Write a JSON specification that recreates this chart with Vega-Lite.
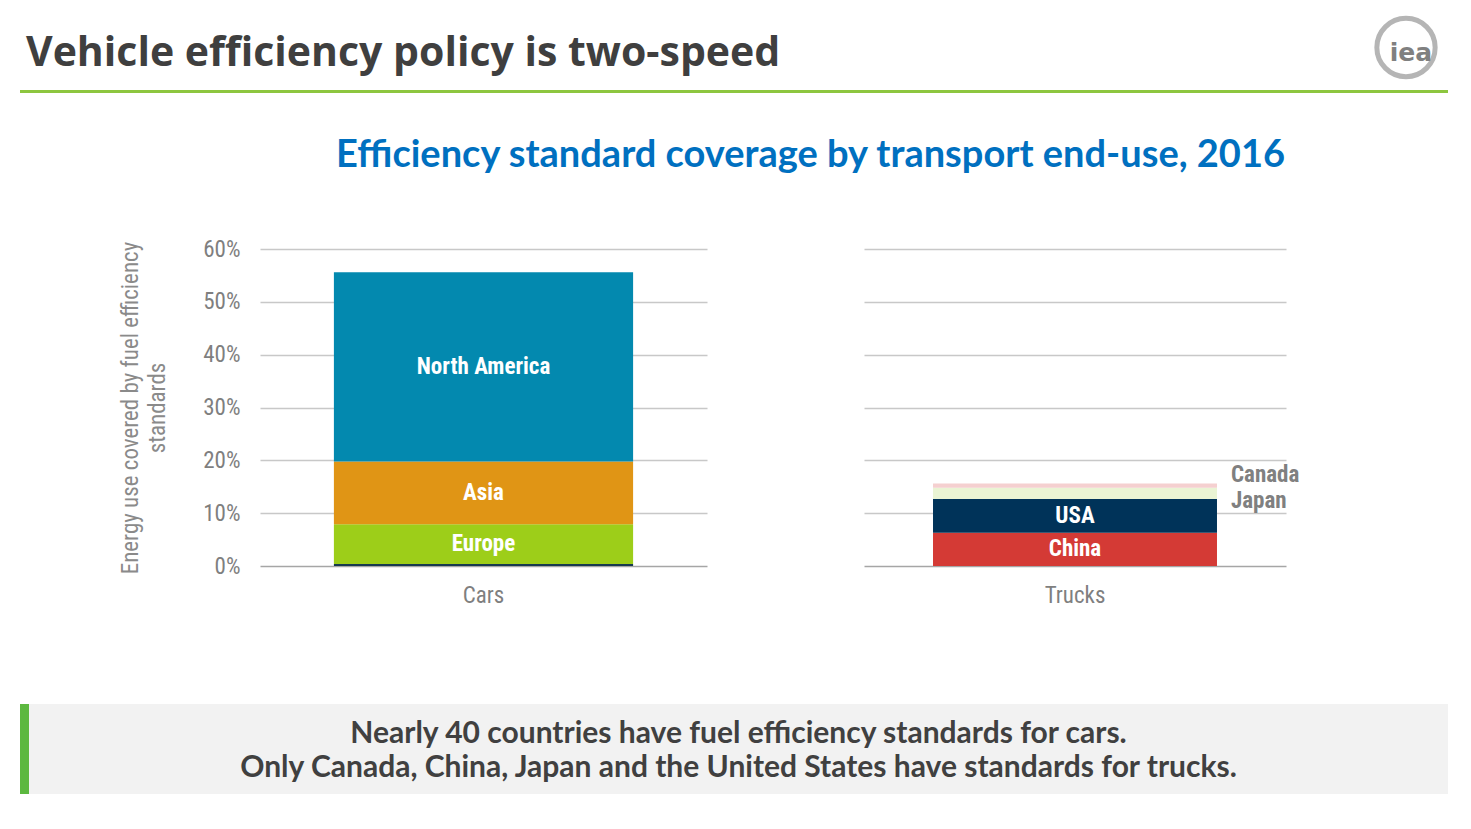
{
  "$schema": "https://vega.github.io/schema/vega-lite/v6.json",
  "background": "white",
  "padding": {"left": 20, "top": 5, "right": 20, "bottom": 0},
  "datasets": {
    "coverage": [
      {"vehicle": "Cars", "region": "Other", "label": "", "value": 0.004, "order": 1},
      {"vehicle": "Cars", "region": "Europe", "label": "Europe", "value": 0.075, "order": 2},
      {"vehicle": "Cars", "region": "Asia", "label": "Asia", "value": 0.119, "order": 3},
      {"vehicle": "Cars", "region": "North America", "label": "North America", "value": 0.358, "order": 4},
      {"vehicle": "Trucks", "region": "China", "label": "China", "value": 0.063, "order": 1},
      {"vehicle": "Trucks", "region": "USA", "label": "USA", "value": 0.064, "order": 2},
      {"vehicle": "Trucks", "region": "Japan", "label": "Japan", "value": 0.021, "order": 3},
      {"vehicle": "Trucks", "region": "Canada", "label": "Canada", "value": 0.008, "order": 4}
    ],
    "footer": [
      {"line": 1, "text": "Nearly 40 countries have fuel efficiency standards for cars."},
      {"line": 2, "text": "Only Canada, China, Japan and the United States have standards for trucks."}
    ]
  },
  "spacing": 44,
  "vconcat": [
    {
      "spacing": 0,
      "vconcat": [
        {
          "spacing": 0,
          "hconcat": [
            {
              "width": 1344,
              "height": 85,
              "title": {
                "text": "Vehicle efficiency policy is two-speed",
                "font": "Open Sans",
                "fontSize": 41,
                "fontWeight": "bold",
                "color": "#3f3f3f",
                "anchor": "start",
                "frame": "group",
                "baseline": "alphabetic",
                "dx": 6,
                "offset": -102
              },
              "data": {"values": []},
              "mark": "rect",
              "encoding": {}
            },
            {
              "width": 84,
              "height": 85,
              "data": {"values": [{"logo": "iea"}]},
              "layer": [
                {
                  "mark": {"type": "point", "shape": "circle", "filled": false, "size": 3400, "strokeWidth": 5, "color": "#b5b5b5", "opacity": 1},
                  "encoding": {}
                },
                {
                  "mark": {"type": "text", "font": "DejaVu Sans", "fontWeight": "bold", "fontSize": 25, "color": "#808080", "dx": 5, "dy": 5},
                  "encoding": {"text": {"field": "logo"}}
                }
              ]
            }
          ]
        },
        {
          "width": 1428,
          "height": 3,
          "view": {"fill": "#8dc63f", "stroke": null},
          "data": {"values": []},
          "mark": "rect",
          "encoding": {}
        }
      ]
    },
    {
      "spacing": 97,
      "vconcat": [
        {
          "spacing": 0,
          "hconcat": [
            {
              "width": 99,
              "height": 10,
              "data": {"values": []},
              "mark": "rect",
              "encoding": {}
            },
            {
              "title": {
                "text": "Efficiency standard coverage by transport end-use, 2016",
                "font": "Lato",
                "fontSize": 38,
                "fontWeight": "bold",
                "color": "#0070c0",
                "anchor": "middle",
                "frame": "bounds",
                "dx": 101,
                "offset": 63
              },
              "bounds": "flush",
              "spacing": 157,
              "hconcat": [
                {
                  "width": 447,
                  "height": 317,
                  "data": {"name": "coverage"},
                  "transform": [
                    {"filter": "datum.vehicle === 'Cars'"},
                    {"stack": "value", "groupby": ["vehicle"], "sort": [{"field": "order", "order": "ascending"}], "as": ["v0", "v1"]},
                    {"calculate": "(datum.v0 + datum.v1) / 2", "as": "vmid"}
                  ],
                  "encoding": {
                    "x": {
                      "field": "vehicle",
                      "type": "nominal",
                      "scale": {"paddingInner": 0, "paddingOuter": 0.247},
                      "axis": {"title": null, "labelAngle": 0, "labelFontSize": 23, "labelPadding": 18, "grid": false}
                    }
                  },
                  "layer": [
                    {
                      "mark": {"type": "bar"},
                      "encoding": {
                        "y": {
                          "field": "v0",
                          "type": "quantitative",
                          "scale": {"domain": [0, 0.6], "nice": false},
                          "axis": {
                            "values": [0, 0.1, 0.2, 0.3, 0.4, 0.5, 0.6],
                            "format": ".0%",
                            "labelPadding": 20,
                            "title": ["Energy use covered by fuel efficiency", "standards"],
                            "titleFont": "Roboto Condensed, Roboto",
                            "titleFontSize": 23,
                            "titleFontWeight": "normal",
                            "titleColor": "#8a8a8a",
                            "titleLineHeight": 27,
                            "titlePadding": 33
                          }
                        },
                        "y2": {"field": "v1"},
                        "color": {
                          "field": "region",
                          "type": "nominal",
                          "scale": {
                            "domain": ["Other", "Europe", "Asia", "North America", "China", "USA", "Japan", "Canada"],
                            "range": ["#163a4f", "#9dce19", "#e09515", "#0389af", "#d43a35", "#003359", "#eaf4d4", "#f5d0d0"]
                          },
                          "legend": null
                        }
                      }
                    },
                    {
                      "transform": [{"filter": "datum.label !== ''"}],
                      "mark": {"type": "text", "color": "white", "fontWeight": "bold", "fontSize": 23, "font": "Roboto Condensed, Roboto"},
                      "encoding": {
                        "y": {
                          "field": "vmid",
                          "type": "quantitative",
                          "axis": {
                            "values": [0, 0.1, 0.2, 0.3, 0.4, 0.5, 0.6],
                            "format": ".0%",
                            "labelPadding": 20,
                            "title": ["Energy use covered by fuel efficiency", "standards"],
                            "titleFont": "Roboto Condensed, Roboto",
                            "titleFontSize": 23,
                            "titleFontWeight": "normal",
                            "titleColor": "#8a8a8a",
                            "titleLineHeight": 27,
                            "titlePadding": 33
                          }
                        },
                        "text": {"field": "label"}
                      }
                    }
                  ]
                },
                {
                  "width": 422,
                  "height": 317,
                  "data": {"name": "coverage"},
                  "transform": [
                    {"filter": "datum.vehicle === 'Trucks'"},
                    {"stack": "value", "groupby": ["vehicle"], "sort": [{"field": "order", "order": "ascending"}], "as": ["v0", "v1"]},
                    {"calculate": "(datum.v0 + datum.v1) / 2", "as": "vmid"}
                  ],
                  "encoding": {
                    "x": {
                      "field": "vehicle",
                      "type": "nominal",
                      "scale": {"paddingInner": 0, "paddingOuter": 0.243},
                      "axis": {"title": null, "labelAngle": 0, "labelFontSize": 23, "labelPadding": 18, "grid": false}
                    }
                  },
                  "layer": [
                    {
                      "mark": {"type": "bar"},
                      "encoding": {
                        "y": {
                          "field": "v0",
                          "type": "quantitative",
                          "scale": {"domain": [0, 0.6], "nice": false},
                          "axis": {"values": [0, 0.1, 0.2, 0.3, 0.4, 0.5, 0.6], "labels": false, "title": null}
                        },
                        "y2": {"field": "v1"},
                        "color": {
                          "field": "region",
                          "type": "nominal",
                          "scale": {
                            "domain": ["Other", "Europe", "Asia", "North America", "China", "USA", "Japan", "Canada"],
                            "range": ["#163a4f", "#9dce19", "#e09515", "#0389af", "#d43a35", "#003359", "#eaf4d4", "#f5d0d0"]
                          },
                          "legend": null
                        }
                      }
                    },
                    {
                      "transform": [{"filter": "datum.region === 'China' || datum.region === 'USA'"}],
                      "mark": {"type": "text", "color": "white", "fontWeight": "bold", "fontSize": 23, "font": "Roboto Condensed, Roboto"},
                      "encoding": {
                        "y": {"field": "vmid", "type": "quantitative", "axis": {"values": [0, 0.1, 0.2, 0.3, 0.4, 0.5, 0.6], "labels": false, "title": null}},
                        "text": {"field": "label"}
                      }
                    },
                    {
                      "transform": [{"filter": "datum.region === 'Canada'"}],
                      "mark": {"type": "text", "align": "left", "dx": 14, "dy": -9, "color": "#808080", "fontWeight": "bold", "fontSize": 23, "font": "Roboto Condensed, Roboto"},
                      "encoding": {
                        "x": {"field": "vehicle", "type": "nominal", "bandPosition": 1},
                        "y": {"field": "v1", "type": "quantitative", "axis": {"values": [0, 0.1, 0.2, 0.3, 0.4, 0.5, 0.6], "labels": false, "title": null}},
                        "text": {"field": "label"}
                      }
                    },
                    {
                      "transform": [{"filter": "datum.region === 'Japan'"}],
                      "mark": {"type": "text", "align": "left", "dx": 14, "dy": 13, "color": "#808080", "fontWeight": "bold", "fontSize": 23, "font": "Roboto Condensed, Roboto"},
                      "encoding": {
                        "x": {"field": "vehicle", "type": "nominal", "bandPosition": 1},
                        "y": {"field": "v1", "type": "quantitative", "axis": {"values": [0, 0.1, 0.2, 0.3, 0.4, 0.5, 0.6], "labels": false, "title": null}},
                        "text": {"field": "label"}
                      }
                    }
                  ]
                }
              ]
            }
          ]
        },
        {
          "spacing": 0,
          "hconcat": [
            {
              "width": 9,
              "height": 90,
              "view": {"fill": "#5cb83f", "stroke": null},
              "data": {"values": []},
              "mark": "rect",
              "encoding": {}
            },
            {
              "width": 1419,
              "height": 90,
              "view": {"fill": "#f2f2f2", "stroke": null},
              "data": {"name": "footer"},
              "mark": {"type": "text", "font": "Lato", "fontWeight": "bold", "fontSize": 30, "color": "#404040", "dy": 2},
              "encoding": {
                "y": {"field": "line", "type": "ordinal", "axis": null, "scale": {"padding": 0.8}},
                "text": {"field": "text"}
              }
            }
          ]
        }
      ]
    }
  ],
  "config": {
    "view": {"stroke": null},
    "axis": {
      "labelFont": "Roboto Condensed, Roboto",
      "labelColor": "#7f7f7f",
      "labelFontSize": 23,
      "gridColor": {"condition": {"test": "datum.value === 0", "value": "#a6a6a6"}, "value": "#c8c8c8"},
      "gridWidth": 1.6,
      "domain": false,
      "ticks": false
    }
  }
}
